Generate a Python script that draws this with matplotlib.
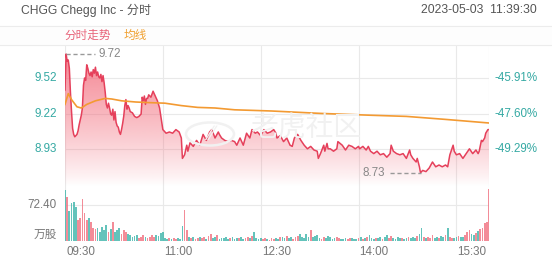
import numpy as np
import matplotlib
matplotlib.use("Agg")
import matplotlib.pyplot as plt
from matplotlib.patches import PathPatch
from matplotlib.lines import Line2D

plt.rcParams['font.family'] = ['Liberation Sans', 'Noto Sans CJK SC', 'DejaVu Sans']

# ---------------- data ----------------
title = "CHGG Chegg Inc - 分时"
stamp = "2023-05-03  11:39:30"
time_labels = ["09:30", "11:00", "12:30", "14:00", "15:30"]
time_label_minutes = [0, 90, 180, 270, 360]
price_ticks = [8.93, 9.22, 9.52]
pct_labels = ["-49.29%", "-47.60%", "-45.91%"]
vol_tick = 72.40

price_minutes = [0, 1, 2, 3, 4, 5, 6, 7, 8, 9, 10, 11, 12, 13, 14, 15, 16, 17, 18, 19,
                 20, 21, 22, 23, 24, 25, 26, 27, 28, 29, 30, 31, 32, 33, 34, 35, 36, 37, 38, 39,
                 40, 41, 42, 43, 44, 45, 46, 47, 48, 49, 50, 51, 52, 53, 54, 55, 56, 57, 58, 59,
                 60, 62, 64, 66, 68, 70, 71, 72, 73, 74, 75, 76, 77, 79, 81, 83, 85, 87, 89, 90,
                 93, 96, 99, 102, 105, 107, 108, 110, 112, 113, 115, 118, 121, 124, 127, 130, 133, 135, 138, 141,
                 142, 144, 147, 150, 153, 156, 158, 161, 164, 167, 170, 172, 175, 177, 180, 183, 186, 189, 192, 194,
                 195, 198, 201, 204, 207, 209, 211, 214, 217, 220, 223, 226, 229, 232, 233, 235, 238, 239, 241, 242,
                 244, 247, 250, 251, 255, 258, 261, 264, 267, 270, 271, 274, 277, 279, 281, 284, 287, 290, 293, 296,
                 299, 300, 302, 305, 308, 311, 314, 317, 318, 320, 321, 323, 324, 326, 327, 329, 332, 335, 338, 341,
                 344, 347, 350, 352, 354, 357, 358, 360, 363, 366, 369, 372, 375, 378, 380, 381, 383, 384, 386, 387,
                 389, 390]
price_values = [9.42, 9.72, 9.66, 9.67, 9.60, 9.40, 9.24, 9.10, 9.05, 9.03, 9.04, 9.05, 9.08, 9.13, 9.17, 9.21, 9.27, 9.46, 9.52, 9.50,
                9.63, 9.60, 9.56, 9.54, 9.57, 9.53, 9.59, 9.56, 9.61, 9.54, 9.57, 9.53, 9.52, 9.55, 9.49, 9.54, 9.48, 9.40, 9.30, 9.27,
                9.31, 9.27, 9.22, 9.21, 9.26, 9.17, 9.24, 9.15, 9.12, 9.11, 9.07, 9.05, 9.09, 9.14, 9.20, 9.29, 9.34, 9.26, 9.29, 9.27,
                9.24, 9.23, 9.20, 9.19, 9.20, 9.22, 9.36, 9.33, 9.37, 9.30, 9.35, 9.35, 9.38, 9.36, 9.41, 9.37, 9.33, 9.27, 9.15, 9.09,
                9.06, 9.07, 9.06, 9.09, 9.07, 9.02, 8.85, 8.88, 8.96, 8.91, 8.98, 8.95, 9.00, 8.96, 9.05, 9.00, 9.07, 9.09, 9.02, 9.07,
                9.05, 9.02, 9.00, 8.99, 9.00, 8.99, 8.96, 9.02, 8.96, 9.06, 9.02, 9.09, 9.06, 9.07, 9.04, 9.09, 9.06, 9.07, 9.09, 9.06,
                9.02, 9.04, 8.99, 9.02, 8.96, 8.95, 9.02, 9.05, 9.00, 8.96, 8.93, 8.95, 8.92, 8.91, 8.85, 8.89, 8.96, 8.91, 8.975, 8.93,
                8.93, 8.91, 8.93, 8.99, 8.96, 8.92, 8.96, 8.95, 8.93, 8.95, 8.93, 8.95, 8.92, 8.95, 8.91, 8.89, 8.91, 8.88, 8.89, 8.86,
                8.89, 8.96, 8.91, 8.89, 8.88, 8.89, 8.85, 8.92, 8.88, 8.85, 8.84, 8.82, 8.85, 8.78, 8.73, 8.75, 8.74, 8.77, 8.82, 8.78,
                8.795, 8.78, 8.795, 8.78, 8.88, 8.96, 8.91, 8.88, 8.89, 8.85, 8.89, 8.93, 8.89, 8.92, 8.89, 8.91, 9.00, 8.99, 9.02, 9.06,
                9.09, 9.09]

avg_minutes = [0, 3, 6, 11, 15, 20, 28, 37, 43, 52, 65, 77, 92, 107, 122, 138, 156, 190, 235, 280, 314, 350, 390]
avg_values = [9.30, 9.39, 9.34, 9.28, 9.27, 9.30, 9.33, 9.35, 9.345, 9.33, 9.32, 9.315, 9.31, 9.29, 9.275, 9.27,
              9.255, 9.245, 9.225, 9.21, 9.20, 9.175, 9.145]

# volume (万股) in 2-minute buckets starting at 09:30
volumes = [102, 89, 60, 76, 79, 69, 42, 46, 84, 56, 42, 46, 39, 26, 24, 26, 19, 29, 22, 32,
           19, 24, 39, 18, 22, 26, 15, 22, 19, 14, 12, 9, 10, 12, 6, 8, 12, 9, 7, 9,
           12, 8, 12, 10, 17, 19, 7, 5, 6, 4, 7, 5, 6, 5, 30, 62, 22, 8,
           6, 8, 5, 7, 9, 6, 8, 5, 10, 15, 6, 8, 12, 5, 7, 6, 9, 4, 6, 8, 5, 7,
           6, 9, 5, 6, 8, 7, 10, 19, 6, 5, 7, 4, 6, 5, 3, 6, 4, 7, 5, 8,
           9, 6, 10, 7, 9, 5, 8, 10, 15, 8, 6, 14, 9, 22, 8, 10, 13, 6, 5, 8,
           7, 10, 9, 5, 6, 8, 7, 5, 4, 6, 5, 7, 6, 4, 5, 6, 8, 5, 7, 9,
           12, 6, 5, 7, 6, 8, 5, 9, 13, 7, 10, 6, 5, 8, 6, 7, 5, 6, 8, 7,
           9, 6, 10, 14, 26, 8, 6, 9, 7, 12, 6, 8, 7, 10, 9, 12, 26, 9, 7, 6,
           8, 10, 9, 8, 12, 19, 22, 14, 12, 17, 20, 24, 26, 36, 39, 104]

# ---------------- style ----------------
LINE = '#e5405b'
FILL = '#f26878'
AVG = '#f39a32'
TEAL = '#35a9a3'
GRID = '#e9e9e9'
GRAY = '#777777'
UP = '#f0707f'
DOWN = '#3db5aa'

W, H = 552, 265
fig = plt.figure(figsize=(W / 100, H / 100), dpi=100)
fig.patch.set_facecolor('white')

def fx(px):
    return px / W

def fy(py):
    return 1 - py / H

ax = fig.add_axes([fx(65), fy(186), fx(424), 141 / H])
axv = fig.add_axes([fx(65), fy(241), fx(424), 55 / H])
for a in (ax, axv):
    a.set_axis_off()
    a.set_xlim(0, 390)

ylo, yhi = 8.62, 9.795
ax.set_ylim(ylo, yhi)
axv.set_ylim(0, 110.6)

# header band
fig.patches.append(plt.Rectangle((0, fy(45)), 1, fy(26) - fy(45), transform=fig.transFigure,
                                 facecolor='#fdfdfd', edgecolor='none', zorder=0))
for yy in (26, 45):
    fig.add_artist(Line2D([0, 1], [fy(yy), fy(yy)], color='#ececec', lw=0.8, transform=fig.transFigure))

# grid
for m in [0, 90, 180, 270, 360, 390]:
    ax.axvline(m, color=GRID, lw=0.8, zorder=0)
    axv.axvline(m, color=GRID, lw=0.8, zorder=0)
for pv in price_ticks:
    ax.axhline(pv, color=GRID, lw=0.8, zorder=0)
axv.axhline(vol_tick, color=GRID, lw=0.8, zorder=0)

# watermark (very faint)
wm_color = '#f1f1f1'
fig.add_artist(plt.Circle((fx(210), fy(134)), 24 / W, transform=fig.transFigure,
                          fill=False, edgecolor=wm_color, lw=1.8, zorder=0.5))
fig.text(fx(212), fy(134), '∕∕', fontsize=15, color=wm_color, ha='center', va='center', zorder=0.5)
fig.text(fx(250), fy(129), '老虎社区', fontsize=20, color=wm_color, ha='left', va='center', zorder=0.5)

# gradient fill under price line
t = np.array(price_minutes, dtype=float)
p = np.array(price_values)
fb = ax.fill_between(t, p, ylo, facecolor='none', edgecolor='none')
clip_path = fb.get_paths()[0]
patch = PathPatch(clip_path, transform=ax.transData, facecolor='none', edgecolor='none')
ax.add_patch(patch)
n = 256
frac = np.linspace(0, 1, n) ** 0.85
rgba = np.zeros((n, 1, 4))
rgb = matplotlib.colors.to_rgb(FILL)
rgba[:, 0, 0], rgba[:, 0, 1], rgba[:, 0, 2] = rgb
rgba[:, 0, 3] = 0.8 * frac
im = ax.imshow(rgba, extent=[0, 390, ylo, max(price_values)], origin='lower', aspect='auto',
               zorder=1, interpolation='bilinear')
im.set_clip_path(patch)
ax.set_xlim(0, 390)
ax.set_ylim(ylo, yhi)

ax.plot(t, p, color=LINE, lw=1.1, zorder=3)
ax.plot(avg_minutes, avg_values, color=AVG, lw=1.2, zorder=4)

# max / min annotations
imax = int(np.argmax(p))
imin = int(np.argmin(p))
ax.plot([t[imax], t[imax] + 27], [p[imax], p[imax]], ls=(0, (3, 2)), color='#999999', lw=1.0, zorder=5)
ax.text(t[imax] + 30, p[imax], f"{p[imax]:.2f}", color='#888888', fontsize=8.4, va='center', ha='left')
ax.plot([t[imin] - 28, t[imin]], [p[imin], p[imin]], ls=(0, (3, 2)), color='#999999', lw=1.0, zorder=5)
ax.text(t[imin] - 33, p[imin], f"{p[imin]:.2f}", color='#888888', fontsize=8.4, va='center', ha='right')

# volume bars
vt = np.arange(len(volumes)) * 2.0
vt[-1] = min(vt[-1], 389.5)
pnow = np.interp(vt, t, p)
pprev = np.interp(vt - 2, t, p)
colors = [UP if a > b else DOWN for a, b in zip(pnow, pprev)]
axv.bar(vt, volumes, width=1.6, color=colors, alpha=0.8, zorder=2, align='center', linewidth=0)

# axis labels
ytr = ax.get_yaxis_transform()
for pv, pl in zip(price_ticks, pct_labels):
    ax.text(-0.019, pv, f"{pv:.2f}", transform=ytr, ha='right', va='center', color=TEAL, fontsize=8.4)
    ax.text(1.012, pv, pl, transform=ytr, ha='left', va='center', color=TEAL, fontsize=8.4)

vtr = axv.get_yaxis_transform()
axv.text(-0.019, vol_tick, f"{vol_tick:.2f}", transform=vtr, ha='right', va='center', color=GRAY, fontsize=8.4)
axv.text(-0.019, 1, "万股", transform=vtr, ha='right', va='bottom', color=GRAY, fontsize=8.4)

xtr = axv.get_xaxis_transform()
for m, lab in zip(time_label_minutes, time_labels):
    axv.text(m + 1, -0.2, lab, transform=xtr, ha='left', va='center', color=GRAY, fontsize=8.4)

# header texts
fig.text(fx(21), fy(10), title, ha='left', va='center', color='#555555', fontsize=8.7)
fig.text(fx(537), fy(10), stamp, ha='right', va='center', color='#555555', fontsize=8.7)
fig.text(fx(64), fy(35.5), "分时走势", ha='left', va='center', color='#e8647a', fontsize=8.4)
fig.text(fx(124), fy(35.5), "均线", ha='left', va='center', color='#f0a030', fontsize=8.4)

fig.savefig('out.png', dpi=100, facecolor='white')
